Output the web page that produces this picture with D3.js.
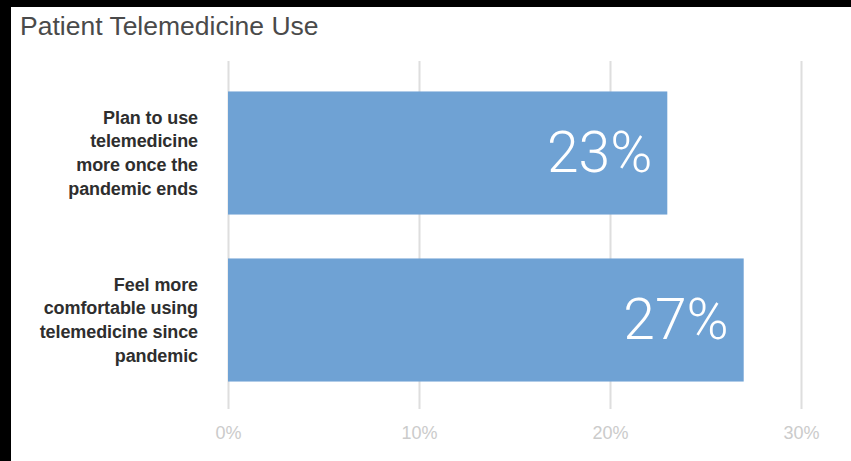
<!DOCTYPE html>
<html>
<head>
<meta charset="utf-8">
<script src="https://cdn.jsdelivr.net/npm/d3@7"></script>
<style>
  html, body { margin: 0; padding: 0; background: #000; }
  svg { display: block; }
</style>
</head>
<body>
<svg id="chart" width="851" height="461"></svg>
<script>
// Survey results: share of patients for each statement
const categories = [
  "Plan to use telemedicine more once the pandemic ends",
  "Feel more comfortable using telemedicine since pandemic"
];
const categoryLines = [
  ["Plan to use", "telemedicine", "more once the", "pandemic ends"],
  ["Feel more", "comfortable using", "telemedicine since", "pandemic"]
];
const values = [23, 27];
const tickValues = [0, 10, 20, 30];
const tickLabels = ["0%", "10%", "20%", "30%"];
const title = "Patient Telemedicine Use";

const svg = d3.select("#chart");

// white canvas inside the dark frame
svg.append("rect")
  .attr("x", 11).attr("y", 7)
  .attr("width", 840).attr("height", 454)
  .attr("fill", "#fff");

const x = d3.scaleLinear().domain([0, 30]).range([228, 801]);
const y = d3.scaleBand()
  .domain(categories)
  .range([69, 404])
  .paddingInner(0.263)
  .paddingOuter(0.1345);

const gridTop = 61, axisY = 409;

// axis with full-height gridlines
const axis = d3.axisBottom(x)
  .tickValues(tickValues)
  .tickFormat((d, i) => tickLabels[i])
  .tickSizeInner(-(axisY - gridTop))
  .tickSizeOuter(0)
  .tickPadding(17);

const gAxis = svg.append("g")
  .attr("transform", `translate(0,${axisY})`)
  .call(axis);
gAxis.select(".domain").remove();
gAxis.selectAll(".tick line")
  .attr("stroke", "#dedede")
  .attr("stroke-width", 2);
gAxis.selectAll(".tick text")
  .attr("fill", "#cbcbcb")
  .attr("font-family", "'Liberation Sans', Arial, sans-serif")
  .attr("font-size", 18);

// bars
svg.append("g").selectAll("rect")
  .data(values)
  .join("rect")
  .attr("x", x(0))
  .attr("y", (d, i) => y(categories[i]))
  .attr("width", d => x(d) - x(0))
  .attr("height", y.bandwidth())
  .attr("fill", "#6fa2d4");

// value labels inside bar ends
svg.append("g").selectAll("text")
  .data(values)
  .join("text")
  .attr("x", d => x(d) - 15)
  .attr("y", (d, i) => y(categories[i]) + y.bandwidth() / 2)
  .attr("dy", "0.34em")
  .attr("text-anchor", "end")
  .attr("fill", "#fff")
  .attr("font-family", "Roboto, 'Liberation Sans', sans-serif")
  .attr("font-weight", 300)
  .attr("font-size", 57)
  .text(d => d + "%");

// category labels, right aligned beside the bars
const lineH = 23.7;
const labels = svg.append("g").selectAll("text")
  .data(categoryLines)
  .join("text")
  .attr("text-anchor", "end")
  .attr("fill", "#2e2e2e")
  .attr("font-family", "'Liberation Sans', Arial, sans-serif")
  .attr("font-weight", 700)
  .attr("font-size", 18)
  .attr("letter-spacing", "-0.1px");
labels.each(function(lines, i) {
  const cy = y(categories[i]) + y.bandwidth() / 2;
  const start = cy - (lines.length - 1) * lineH / 2;
  d3.select(this).selectAll("tspan")
    .data(lines)
    .join("tspan")
    .attr("x", 198)
    .attr("y", (d, j) => start + j * lineH)
    .attr("dy", "0.35em")
    .text(d => d);
});

// title
svg.append("text")
  .attr("x", 20)
  .attr("y", 35)
  .attr("fill", "#4a4a4a")
  .attr("font-family", "'Liberation Sans', Arial, sans-serif")
  .attr("font-size", 26.5)
  .text(title);
</script>
</body>
</html>
